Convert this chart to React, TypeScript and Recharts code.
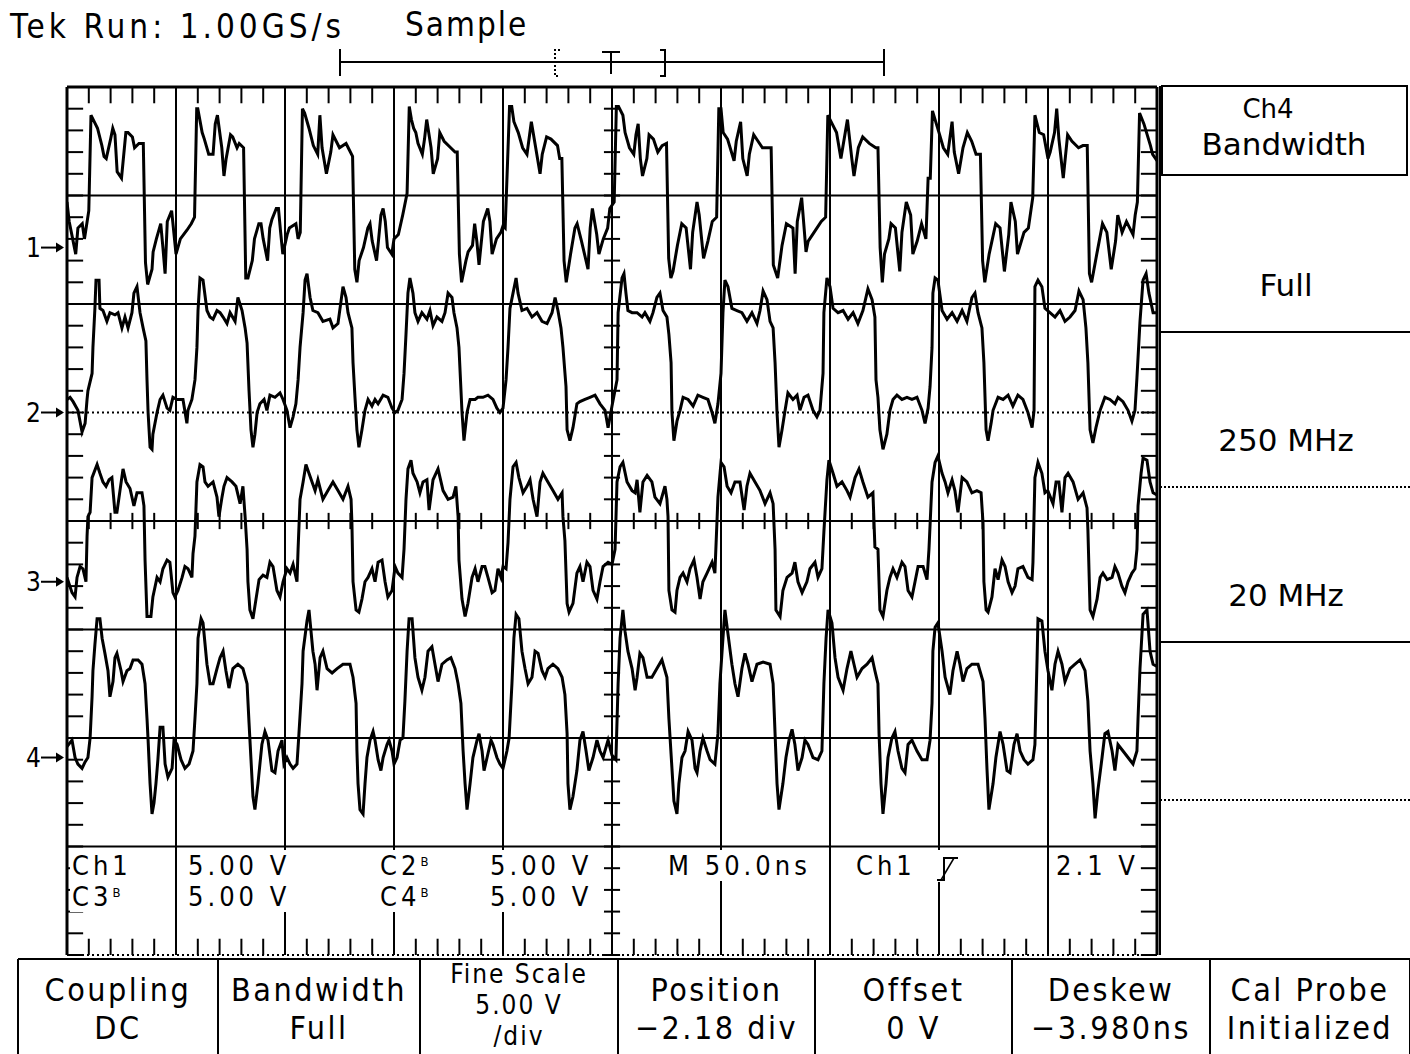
import React from 'react';
import { LineChart, Line, XAxis, YAxis, ReferenceLine } from 'recharts';

// time in ns (10 div x 50 ns), value in volts relative to the channel ground marker
const ch1Trace: [number, number][] = [
  [0, 2.1], [1, 1.2], [4, -0.3], [5, 0.9], [7, 1.1], [8, 0.4], [10, 1.7], [11, 6.1], [13, 5.7], [14, 5.5],
  [16, 4.7], [17, 4.2], [18, 4.1], [20, 5.0], [21, 5.5], [22, 5.2], [23, 3.5], [25, 3.2], [27, 5.3], [28, 5.3],
  [30, 5.1], [31, 4.6], [33, 4.8], [35, 4.8], [36, -0.7], [37, -1.7], [39, -1.0], [39.5, -0.2], [41, 0.4], [43, 1.1],
  [44, 0], [45, -1.2], [46, 1.2], [48, 1.7], [50, -0.3], [52, 0.4], [55, 0.8], [57, 1.1], [58.5, 1.4], [59.5, 6.4],
  [60, 6.4], [62, 5.3], [63, 5.0], [65, 4.3], [67, 4.3], [68, 5.7], [69, 6.1], [71, 4.6], [72, 3.3], [73, 4.1],
  [75, 5.2], [76, 5.1], [78, 4.6], [79, 4.8], [81, 4.6], [82, -1.4], [83, -1.4], [85, -0.6], [86, 0.4], [88, 1.1],
  [89, 1.1], [90, 0.4], [92, -0.6], [93, 0.9], [94, 1.3], [96, 1.8], [97, 1.8], [98, 0.7], [99, -0.3], [101, 0.6],
  [102, 0.9], [105, 1.1], [106, 0.4], [107, 0.7], [108, 6.4], [109, 6.2], [111, 5.5], [113, 4.7], [115, 4.3], [116, 6.1],
  [117, 4.6], [119, 3.4], [121, 4.4], [122, 5.2], [125, 4.6], [128, 4.8], [129, 4.6], [131, 4.2], [132, -1.0], [133, -1.6],
  [134, -0.6], [136, 0], [138, 0.9], [139, 1.1], [140, 0.3], [142, -0.6], [144, 1.5], [145, 1.8], [146, 1.2], [147, 0],
  [149, -0.3], [150, 0.4], [152, 0.6], [154, 1.5], [156, 2.5], [157, 6.5], [158, 5.9], [159, 5.5], [160, 5.3], [161, 4.8],
  [163, 4.3], [164, 5.0], [165, 5.9], [167, 4.6], [168, 3.4], [170, 4.1], [171, 5.3], [173, 4.9], [176, 4.6], [178, 4.4],
  [179, 4.4], [180, -0.3], [181, -1.6], [183, -0.6], [184, -0.2], [186, 0.1], [187, 1.1], [188, 0.3], [189, -0.8], [191, 1.2],
  [193, 1.8], [194, 1.2], [195, -0.3], [197, 0.4], [199, 0.7], [200, 1.0], [201, 0.9], [203, 6.5], [204, 6.5], [205, 5.8],
  [207, 5.3], [209, 4.6], [211, 4.3], [213, 5.8], [215, 4.6], [217, 3.4], [218, 4.3], [220, 5.1], [222, 5.0], [225, 4.7],
  [226, 4.1], [227, 4.1], [228, -0.6], [229, -1.6], [231, -0.3], [233, 0.9], [234, 1.1], [236, 0.3], [239, -1.0], [240, 0.9],
  [241, 1.8], [243, 0.6], [244, -0.3], [246, 0.4], [248, 0.9], [249, 1.8], [251, 2.1], [252, 6.5], [253, 6.5], [255, 6.1],
  [256, 5.3], [258, 4.6], [260, 4.3], [261, 5.2], [262, 5.7], [263, 4.1], [264, 3.3], [266, 4.1], [267, 5.2], [269, 5.0],
  [271, 4.4], [273, 4.7], [275, 4.8], [276, -0.5], [277, -1.4], [278, -1.1], [280, 0.1], [282, 1.1], [284, 0.9], [286, -1.0],
  [287, 0.7], [289, 2.1], [290, 1.5], [292, -0.5], [294, 0.3], [296, 1.2], [298, 1.4], [299, 6.4], [300, 6.4], [301, 5.3],
  [303, 5.0], [306, 4.0], [307, 4.9], [309, 5.8], [310, 4.1], [312, 3.3], [313, 4.3], [315, 5.2], [317, 4.9], [319, 4.6],
  [322, 4.6], [323, 4.6], [324, -0.8], [326, -1.4], [328, 0.1], [330, 1.1], [333, 0.9], [334, -1.2], [335, 1.2], [337, 2.3],
  [339, -0.2], [340, 0.3], [342, 0.6], [346, 1.2], [348, 1.4], [349, 6.1], [351, 5.7], [353, 5.3], [355, 4.1], [357, 5.3],
  [358, 5.9], [360, 4.1], [361, 3.3], [363, 4.6], [365, 5.1], [368, 4.8], [371, 4.6], [372, 4.6], [373, 0], [374, -1.6],
  [375, -0.3], [377, 0.4], [378, 1.1], [380, 0.9], [382, -1.1], [383, 0.7], [385, 2.1], [387, 1.5], [388, -0.3], [390, 0.3],
  [392, 1.1], [394, 0.4], [395, 3.2], [396, 3.2], [397, 6.3], [400, 5.3], [402, 4.6], [404, 4.3], [406, 5.8], [407, 4.4],
  [409, 3.4], [411, 4.6], [413, 5.3], [415, 4.9], [417, 4.3], [419, 4.3], [420, -0.6], [421, -1.6], [423, -0.3], [426, 1.1],
  [428, 0.9], [430, -1.1], [432, 0.6], [433, 2.1], [435, 1.2], [436, -0.3], [439, 0.7], [441, 0.9], [443, 2.3], [444, 6.1],
  [446, 5.3], [448, 5.2], [450, 4.1], [451, 4.4], [453, 5.3], [454, 6.4], [455, 5.0], [457, 3.2], [459, 5.2], [461, 4.9],
  [464, 4.6], [466, 4.7], [468, 4.7], [469, -1.2], [470, -1.6], [472, -0.5], [475, 1.1], [477, 0.7], [479, -1.0], [481, 0.3],
  [482, 1.5], [484, 0.7], [486, 1.2], [489, 0.6], [490, 1.5], [491, 2.1], [492, 6.2], [494, 5.7], [497, 4.7], [498, 4.3],
  [500, 4.0],
];

const ch2Trace: [number, number][] = [
  [0, 0.6], [1.4, 0.7], [2.8, 0.5], [5.0, 0.1], [6.9, -0.9], [8.3, -0.5], [9.2, 0.6], [9.6, 1.0], [11.5, 1.8], [11.9, 3.0],
  [12.8, 4.8], [13.3, 6.1], [14.7, 6.1], [15.1, 4.8], [16.5, 4.7], [18.3, 4.2], [19.7, 4.6], [22.0, 4.5], [23.4, 4.6], [25.2, 3.9],
  [26.6, 4.4], [28.0, 3.9], [29.8, 4.6], [30.7, 5.5], [32.1, 5.8], [33.5, 4.6], [34.9, 3.9], [36.2, 3.3], [36.7, 1.5], [37.2, 0],
  [38.1, -1.6], [39.0, -1.7], [39.4, -1.0], [41.3, 0], [42.7, 0.6], [44.0, 0.8], [45.9, 0.2], [47.2, 0.1], [48.6, 0.7], [50.5, 0.6],
  [53.2, 0.6], [55.0, -0.5], [55.5, 0.1], [57.3, 0.6], [58.7, 1.5], [59.6, 3.0], [60.1, 4.7], [61.0, 6.2], [62.4, 6.1], [64.2, 4.7],
  [65.6, 4.4], [67.0, 4.3], [68.8, 4.7], [70.2, 4.6], [71.6, 4.4], [73.4, 4.1], [74.8, 4.6], [77.1, 4.2], [78.4, 5.3], [80.3, 4.7],
  [81.7, 3.9], [82.6, 3.2], [83.5, 1.0], [84.4, -0.8], [85.3, -1.6], [86.2, -1.0], [87.2, 0], [88.5, 0.4], [90.4, 0.6], [91.7, 0.1],
  [93.1, 0.8], [95.4, 0.7], [97.7, 0.9], [99.1, 0.6], [100.9, 0.1], [102.3, -0.7], [103.7, -0.2], [105.0, 0.4], [106.0, 1.5], [106.9, 3.0],
  [108.3, 4.6], [109.2, 6.1], [110.1, 6.4], [111.5, 5.3], [112.8, 4.7], [115.1, 4.6], [117.4, 4.2], [120.6, 4.3], [122.0, 3.9], [124.3, 4.1],
  [126.6, 5.8], [128.0, 5.3], [128.9, 4.6], [130.7, 3.9], [131.2, 2.3], [132.1, 0.7], [133.0, -0.8], [133.9, -1.6], [135.3, -0.8], [136.7, 0.1],
  [138.1, 0.6], [139.9, 0.3], [141.3, 0.6], [142.7, 0.4], [145.0, 0.8], [147.2, 0.7], [149.1, 0.2], [150.5, 0], [151.8, 0.1], [153.7, 0.6],
  [154.6, 1.8], [155.5, 3.6], [156.4, 5.5], [157.3, 6.2], [158.7, 5.5], [159.6, 4.6], [161.0, 4.2], [162.8, 4.6], [165.1, 4.3], [166.5, 4.7],
  [167.9, 4.0], [169.7, 4.4], [172.0, 4.2], [173.4, 4.6], [174.8, 5.5], [176.6, 5.3], [177.5, 4.6], [178.9, 3.9], [179.8, 3.0], [181.2, 0],
  [182.1, -1.3], [183.5, 0], [184.9, 0.6], [187.2, 0.6], [188.5, 0.7], [190.8, 0.7], [193.1, 0.8], [195.4, 0.6], [197.2, 0.2], [198.6, 0],
  [200.0, 0.2], [201.4, 1.5], [202.3, 3.0], [203.2, 4.8], [204.6, 5.5], [206.0, 6.2], [206.9, 5.5], [208.7, 4.7], [211.0, 4.8], [213.3, 4.4],
  [215.6, 4.6], [217.9, 4.2], [220.2, 4.1], [222.5, 4.6], [223.9, 5.3], [225.2, 4.7], [226.6, 3.9], [227.5, 3.0], [228.9, 1.2], [229.4, -0.8],
  [230.7, -1.3], [232.1, -0.7], [233.9, 0.4], [235.3, 0.5], [237.6, 0.6], [239.9, 0.7], [242.2, 0.8], [244.5, 0.4], [246.8, 0.1], [248.2, -0.7],
  [250.0, 0.3], [252.3, 1.5], [252.8, 4.6], [254.6, 6.2], [255.5, 6.4], [256.4, 5.5], [257.3, 4.7], [259.2, 4.6], [261.5, 4.6], [263.8, 4.4],
  [265.1, 4.6], [267.4, 4.2], [268.8, 4.6], [270.6, 5.3], [272.0, 5.5], [273.4, 4.7], [275.2, 4.4], [276.1, 3.6], [277.1, 2.3], [277.5, 0],
  [278.4, -1.3], [279.8, -0.4], [281.2, 0.1], [282.6, 0.7], [284.9, 0.6], [287.2, 0.3], [289.4, 0.8], [291.7, 0.7], [294.0, 0.6], [295.9, 0],
  [297.2, -0.5], [298.6, 0.4], [300.0, 1.8], [300.9, 4.6], [301.8, 6.1], [303.2, 5.8], [305.0, 4.8], [307.3, 4.7], [309.6, 4.6], [311.9, 4.2],
  [314.2, 4.6], [316.5, 4.1], [317.9, 4.7], [319.3, 5.6], [321.1, 5.2], [322.5, 4.2], [323.9, 3.9], [324.8, 2.3], [325.7, 0], [326.6, -1.6],
  [328.0, -0.8], [329.4, 0.1], [330.7, 0.9], [333.0, 0.6], [334.9, 0.8], [336.2, 0.1], [338.1, 0.7], [339.9, 0.8], [342.2, 0.1], [344.0, -0.2],
  [345.4, 0.1], [346.8, 1.8], [347.2, 4.6], [348.6, 6.2], [350.0, 5.8], [351.4, 4.8], [353.7, 4.6], [356.0, 4.7], [358.3, 4.3], [360.6, 4.6],
  [362.8, 4.1], [365.1, 4.7], [367.4, 5.7], [369.3, 5.2], [370.6, 4.4], [371.1, 1.5], [372.0, 0.7], [372.9, -0.8], [374.3, -1.7], [376.1, -1.0],
  [377.5, 0.1], [378.9, 0.6], [380.7, 0.8], [383.0, 0.6], [385.3, 0.7], [387.6, 0.6], [389.9, 0.7], [392.2, 0.1], [393.6, -0.5], [395.0, 0.2],
  [395.9, 1.2], [396.8, 3.0], [397.2, 5.5], [398.2, 6.2], [399.5, 6.1], [401.4, 4.7], [403.7, 4.3], [406.0, 4.6], [408.3, 4.2], [410.6, 4.7],
  [412.8, 4.2], [415.1, 5.3], [416.5, 5.5], [417.9, 4.6], [419.7, 3.9], [420.6, 2.3], [421.6, -0.8], [422.5, -1.3], [423.9, -0.5], [424.8, 0.1],
  [427.1, 0.7], [429.4, 0.6], [431.7, 0.8], [433.9, 0.3], [436.2, 0.8], [438.5, 0.6], [440.8, 0], [442.7, -0.7], [443.6, 0.1], [444.0, 5.8],
  [445.4, 6.1], [447.2, 5.8], [448.6, 4.8], [450.9, 4.6], [453.2, 4.4], [455.5, 4.7], [457.8, 4.2], [460.1, 4.4], [462.4, 4.7], [464.2, 5.6],
  [466.1, 5.2], [467.4, 3.9], [468.3, 2.3], [469.3, -0.8], [470.6, -1.4], [472.0, -0.7], [473.9, 0.1], [476.1, 0.7], [478.4, 0.6], [480.7, 0.4],
  [482.1, 0.7], [484.4, 0.5], [486.7, 0.1], [488.5, -0.4], [489.9, 0.1], [490.8, 1.6], [492.2, 4.2], [493.6, 6.1], [495.0, 6.4], [496.3, 5.5],
  [498.2, 4.6], [500, 4.6],
];

const ch3Trace: [number, number][] = [
  [0, 0.2], [2.3, -0.5], [3.7, -0.7], [4.6, 0.2], [6.0, 0.7], [7.3, 0.6], [8.7, 0], [9.2, 2.1], [9.6, 3.0], [10.6, 3.2],
  [11.5, 4.8], [13.8, 5.4], [15.1, 5.0], [16.5, 4.6], [17.9, 4.4], [19.3, 4.7], [20.6, 4.8], [22.0, 3.2], [22.9, 3.2], [24.3, 4.2],
  [25.7, 5.2], [27.1, 4.6], [28.9, 4.3], [30.7, 3.5], [32.1, 4.1], [34.4, 4.1], [35.3, 3.5], [35.8, 1.0], [36.7, -1.6], [38.5, -1.6],
  [39.4, -0.7], [41.3, 0.2], [42.7, 0], [44.0, 0.6], [45.9, 1.0], [47.2, 0.9], [48.6, -0.5], [49.5, -0.7], [50.9, -0.4], [52.8, 0.2],
  [54.1, 0.7], [55.5, 0.6], [57.3, 0.2], [57.8, 1.3], [58.7, 2.1], [59.6, 4.6], [61.0, 5.4], [62.4, 5.3], [63.3, 4.6], [64.7, 4.4],
  [67.0, 4.6], [68.8, 3.9], [69.7, 3.0], [71.1, 3.9], [72.0, 4.4], [73.4, 4.8], [75.7, 4.6], [77.5, 4.4], [79.4, 3.6], [80.7, 4.4],
  [81.7, 3.0], [82.6, 1.5], [83.0, 0], [83.9, -1.3], [85.3, -1.7], [86.7, -0.8], [88.1, 0.1], [89.9, 0.3], [91.7, 0.2], [93.1, 0.9],
  [94.5, 0.7], [96.3, -0.4], [97.7, -0.7], [99.1, 0], [100.9, 0.6], [102.3, 0.4], [103.7, 0.8], [105.5, 0], [106.0, 1.5], [106.9, 3.8],
  [108.3, 4.6], [109.6, 5.4], [111.0, 5.0], [112.4, 4.6], [113.8, 4.2], [115.1, 4.7], [117.4, 3.8], [119.7, 4.2], [122.0, 4.6], [124.3, 4.2],
  [126.6, 3.8], [128.9, 4.4], [130.3, 3.8], [130.7, 2.7], [131.2, 0], [132.6, -1.3], [133.9, -1.4], [135.3, -0.8], [136.7, 0], [138.1, 0.2],
  [139.9, 0.6], [141.3, 0], [142.7, 0.9], [144.5, 1.0], [145.9, 0], [147.2, -0.7], [149.1, -0.4], [150.5, 0.7], [151.8, 0.4], [153.7, 0.2],
  [154.6, 1.5], [155.5, 3.8], [156.4, 5.2], [157.8, 5.6], [158.7, 5.0], [160.6, 4.6], [161.9, 4.1], [163.3, 4.6], [165.1, 4.7], [166.1, 3.3],
  [167.9, 4.7], [170.2, 5.2], [172.5, 4.2], [174.8, 3.8], [177.1, 3.9], [178.4, 4.4], [179.4, 3.0], [179.8, 1.0], [181.2, -0.8], [182.6, -1.6],
  [183.9, -1.0], [185.8, 0.2], [187.2, 0.6], [188.5, 0], [190.4, 0.7], [191.7, 0.7], [193.1, 0.2], [195.0, -0.5], [196.3, -0.4], [197.7, 0.6],
  [199.1, 0.2], [200.0, 0.7], [201.4, 0.6], [202.3, 1.8], [203.2, 3.8], [204.6, 5.3], [206.0, 5.5], [207.3, 4.8], [209.2, 4.1], [211.0, 4.4],
  [212.4, 4.7], [213.8, 3.8], [215.6, 3.0], [217.0, 4.6], [218.3, 5.0], [220.6, 4.6], [222.9, 4.2], [225.2, 3.8], [227.1, 4.1], [227.5, 3.0],
  [228.4, 1.9], [229.4, -1.0], [230.3, -1.4], [232.1, -1.0], [233.9, 0.4], [235.3, 0.7], [236.7, 0], [238.5, 0.9], [239.9, 0.7], [241.3, -0.4],
  [243.1, -0.8], [244.5, 0], [245.9, 0.7], [248.2, 0.9], [250.0, 0.8], [251.4, 1.5], [252.3, 4.6], [253.7, 5.3], [255.0, 5.5], [256.9, 4.6],
  [259.2, 4.2], [260.6, 4.1], [261.5, 4.7], [262.8, 3.2], [264.2, 4.6], [266.1, 4.9], [268.3, 4.6], [269.7, 3.9], [272.0, 3.6], [274.3, 4.4],
  [275.2, 3.8], [275.7, 3.0], [276.1, -0.4], [277.5, -1.3], [278.9, -1.4], [279.8, -0.4], [281.2, 0.2], [282.6, 0.4], [284.4, 0], [285.8, 0.6],
  [287.6, 1.0], [289.0, 0.2], [290.4, -0.8], [291.7, 0], [293.6, 0.4], [295.9, 0.9], [297.2, 0.4], [298.6, 3.9], [300.0, 5.5], [301.4, 5.3],
  [302.8, 4.4], [304.6, 4.1], [306.4, 4.6], [308.7, 4.6], [310.6, 3.3], [311.9, 4.4], [313.3, 5.0], [315.6, 4.6], [317.9, 4.2], [320.2, 3.6],
  [322.5, 4.1], [323.9, 3.6], [324.8, 1.5], [325.2, -1.3], [327.1, -1.6], [328.4, -0.4], [330.3, 0.2], [332.6, 0.4], [333.9, 0.9], [335.3, 0],
  [337.2, -0.5], [339.4, 0], [340.8, 0.6], [343.1, 0.9], [344.5, 0.2], [346.3, 0.6], [347.2, 2.3], [348.6, 4.7], [349.5, 5.6], [351.4, 5.0],
  [353.2, 4.4], [355.5, 4.6], [357.8, 4.2], [359.2, 3.9], [361.5, 4.8], [363.3, 5.2], [365.1, 4.6], [367.4, 3.9], [369.7, 4.1], [370.6, 1.6],
  [372.0, 1.5], [372.9, -1.3], [374.3, -1.6], [376.1, -0.4], [377.5, 0.2], [378.9, 0.6], [380.7, 0.2], [383.0, 0.9], [384.4, 0.7], [385.8, -0.4],
  [387.6, -0.7], [389.0, 0], [390.4, 0.7], [392.7, 0.7], [394.5, 0.1], [395.4, 1.5], [396.8, 4.6], [398.2, 5.5], [399.5, 5.8], [401.4, 5.0],
  [402.8, 4.6], [404.1, 4.1], [406.0, 4.7], [407.3, 4.2], [408.7, 3.2], [410.6, 4.8], [412.8, 4.6], [415.1, 4.1], [417.4, 4.2], [419.3, 4.1],
  [420.2, 2.7], [420.6, 0], [421.6, -1.3], [422.5, -1.4], [424.3, -0.7], [425.7, 0.6], [427.1, 0.1], [428.9, 1.0], [430.3, 0.7], [431.7, 0],
  [433.5, -0.5], [434.9, -0.2], [436.2, 0.6], [438.5, 0.7], [440.8, 0.2], [442.7, 0.1], [443.1, 0.9], [444.0, 4.8], [445.4, 5.5], [447.2, 5.0],
  [448.6, 4.1], [449.9, 4.2], [452.3, 3.6], [453.7, 4.6], [455.0, 4.6], [456.4, 3.2], [457.8, 4.8], [459.2, 5.0], [461.5, 4.6], [463.8, 3.8],
  [466.1, 4.1], [467.9, 3.4], [468.3, 2.4], [469.3, -1.3], [470.6, -1.6], [472.5, -0.8], [473.9, 0.2], [475.2, 0.4], [477.1, 0.1], [479.4, 0.2],
  [480.7, 0.7], [482.1, 0.4], [483.9, -0.2], [485.3, -0.5], [486.7, 0], [488.5, 0.4], [489.9, 0.6], [490.8, 1.5], [491.3, 3.5], [492.7, 5.0],
  [493.6, 5.7], [495.4, 5.6], [496.8, 4.6], [498.2, 4.1], [500, 4.0],
];

const ch4Trace: [number, number][] = [
  [0, 0.5], [2.3, 0.8], [3.7, 0], [5.0, -0.3], [6.9, -0.5], [8.3, -0.2], [9.6, 0], [10.6, 0.9], [11.5, 2.8], [11.9, 4.0],
  [12.8, 5.2], [13.8, 6.4], [15.1, 6.4], [16.1, 5.5], [17.4, 4.8], [18.8, 4.0], [19.7, 2.8], [21.1, 3.5], [22.0, 4.6], [22.9, 4.8],
  [24.8, 4.0], [25.7, 3.5], [27.5, 4.0], [28.9, 4.1], [30.3, 4.5], [32.6, 4.5], [34.4, 4.3], [35.8, 3.4], [36.7, 1.8], [37.2, 0.8],
  [38.1, -1.2], [39.0, -2.6], [39.9, -2.1], [40.8, -1.2], [41.7, -0.1], [42.7, 1.4], [44.0, 1.4], [45.0, -0.3], [46.3, -0.9], [48.2, -0.5],
  [49.1, 0.8], [50.5, 0.6], [52.3, -0.1], [54.1, -0.5], [56.0, -0.3], [57.8, 0.3], [58.7, 1.8], [59.6, 3.4], [60.1, 5.5], [61.5, 6.4],
  [62.4, 6.2], [64.2, 4.3], [65.6, 3.4], [67.0, 3.4], [68.8, 4.1], [70.2, 4.6], [71.6, 4.9], [72.9, 4.0], [74.3, 3.2], [76.1, 4.1],
  [78.4, 4.3], [80.7, 4.1], [82.6, 3.4], [83.5, 1.6], [84.4, -0.1], [85.3, -1.8], [86.2, -2.4], [87.6, -1.2], [89.4, 0.6], [90.8, 1.2],
  [92.2, 0.8], [94.0, -0.6], [95.4, -0.7], [96.8, 0.3], [98.6, 0.8], [99.5, -0.3], [100.9, 0], [102.3, -0.3], [103.7, -0.5], [105.5, -0.3],
  [106.4, 1.1], [107.8, 3.4], [108.3, 4.9], [110.1, 6.3], [111.0, 6.8], [112.8, 4.9], [113.8, 4.3], [114.7, 3.1], [116.1, 4.6], [117.4, 4.9],
  [119.3, 4.1], [121.6, 3.9], [123.9, 4.1], [126.6, 4.3], [129.8, 4.3], [131.2, 3.7], [132.6, 2.5], [133.0, 0.3], [133.5, -1.2], [134.4, -2.4],
  [135.8, -2.6], [136.7, -1.2], [137.6, 0], [139.0, 0.8], [140.4, 1.2], [141.3, 0.8], [142.7, -0.1], [144.0, -0.6], [145.0, 0], [146.8, 0.6],
  [147.7, 0.8], [149.1, 0.3], [150.0, -0.3], [151.4, 0], [152.8, 0.8], [154.1, 0.9], [155.0, 2.6], [156.0, 4.9], [156.9, 6.4], [158.3, 6.4],
  [159.6, 4.6], [161.0, 3.7], [162.8, 3.1], [164.2, 3.7], [165.6, 4.9], [167.4, 5.1], [168.8, 4.3], [170.2, 3.5], [172.0, 4.3], [174.3, 4.5],
  [176.1, 4.6], [178.0, 4.1], [179.4, 3.4], [180.7, 2.5], [181.7, 0.3], [182.6, -1.2], [183.5, -2.4], [184.9, -1.2], [186.2, 0], [188.1, 0.8],
  [189.0, 1.1], [190.4, 0.3], [191.3, -0.6], [192.7, 0], [194.5, 0.8], [195.4, 0.6], [197.2, 0], [198.6, -0.3], [200.0, -0.5], [201.8, 0.3],
  [202.8, 0.9], [204.1, 3.4], [205.0, 5.5], [206.0, 6.6], [207.3, 6.4], [208.7, 4.9], [210.1, 4.1], [211.5, 3.4], [213.3, 3.7], [214.7, 4.9],
  [216.1, 4.8], [217.9, 4.0], [219.3, 3.7], [220.6, 4.1], [222.9, 4.3], [225.2, 4.1], [227.1, 3.7], [228.4, 2.9], [229.4, 1.1], [229.8, -1.2],
  [230.7, -2.4], [232.1, -1.8], [233.9, -0.6], [235.3, 0.8], [236.7, 1.2], [238.1, 0.3], [239.4, -0.6], [241.3, 0], [243.1, 0.8], [244.5, 0.3],
  [245.9, 0], [248.2, 0.8], [250.0, 0.1], [251.8, -0.1], [252.8, 3.4], [253.7, 5.5], [255.0, 6.8], [256.0, 5.8], [257.3, 4.9], [259.2, 4.1],
  [260.6, 3.1], [261.5, 3.7], [262.8, 4.8], [264.2, 4.6], [266.1, 3.7], [268.3, 3.7], [270.6, 4.1], [272.9, 4.5], [275.2, 3.7], [276.1, 1.8],
  [277.5, -0.5], [278.4, -2.0], [279.8, -2.6], [280.7, -1.2], [282.1, 0], [283.5, 0.3], [284.9, 1.2], [286.7, 0.8], [288.1, -0.5], [289.0, -0.7],
  [290.4, 0.3], [291.7, 0.9], [293.6, 0.3], [295.0, -0.1], [297.2, -0.3], [298.6, 1.1], [299.5, 3.4], [300.9, 5.5], [301.8, 6.8], [303.2, 5.7],
  [305.0, 4.3], [306.4, 3.4], [307.8, 2.8], [309.6, 4.1], [311.0, 4.8], [312.4, 4.3], [314.2, 3.5], [316.5, 4.3], [319.3, 4.4], [322.5, 4.3],
  [323.9, 3.4], [324.8, 1.1], [325.7, -1.2], [326.6, -2.4], [328.4, -1.2], [329.8, 0], [331.2, 0.8], [332.6, 1.3], [333.9, 0.6], [335.3, -0.6],
  [337.2, 0], [338.5, 0.8], [339.9, 0.6], [342.2, 0], [344.5, -0.1], [346.3, 0.3], [347.2, 3.4], [348.2, 5.5], [349.1, 6.8], [350.9, 6.2],
  [352.3, 4.6], [353.7, 3.7], [356.0, 3.1], [357.8, 4.1], [359.6, 4.9], [361.0, 4.3], [362.4, 3.7], [364.7, 4.1], [367.0, 4.3], [369.3, 4.6],
  [370.6, 4.0], [372.0, 3.4], [372.5, 1.1], [373.4, -1.2], [374.3, -2.6], [375.7, -1.2], [376.6, 0], [378.4, 0.9], [379.8, 1.2], [381.2, 0.3],
  [383.0, -0.5], [384.4, -0.7], [385.8, 0.6], [387.6, 0.8], [389.9, 0.3], [392.2, -0.1], [394.5, -0.1], [395.9, 0.8], [396.8, 2.5], [397.2, 4.9],
  [398.2, 6.0], [399.5, 6.2], [401.4, 4.9], [402.8, 3.7], [405.0, 2.9], [406.4, 4.0], [408.3, 4.9], [409.6, 4.3], [411.0, 3.5], [412.8, 4.1],
  [415.1, 4.3], [417.9, 4.3], [420.2, 3.5], [421.1, 1.8], [422.0, -0.5], [422.9, -2.4], [424.8, -1.2], [426.1, 0], [428.0, 1.2], [429.4, 0.6],
  [431.2, -0.6], [432.6, -0.7], [434.4, 0.6], [435.8, 1.1], [437.2, 0.3], [439.0, -0.1], [440.8, -0.3], [443.1, -0.1], [444.0, 0.6], [445.0, 4.6],
  [445.4, 6.4], [447.2, 6.3], [448.6, 4.9], [450.0, 4.0], [451.8, 3.1], [453.2, 4.3], [454.6, 4.9], [456.4, 4.3], [457.8, 3.5], [460.1, 4.1],
  [462.4, 4.3], [464.7, 4.5], [467.0, 4.0], [468.3, 2.6], [469.3, 0.3], [470.6, -1.2], [471.6, -2.8], [472.9, -1.5], [474.8, 0], [476.1, 1.1],
  [477.5, 1.2], [479.4, 0.3], [480.7, -0.6], [482.1, 0.6], [484.4, 0.3], [486.7, 0], [489.0, -0.3], [490.8, 0.3], [491.3, 1.8], [492.2, 4.1],
  [493.1, 5.7], [493.6, 6.6], [495.4, 6.8], [496.8, 4.9], [498.2, 4.3], [500, 4.2],
];

// vertical position of each channel's ground marker, in divisions from centre
const channelPositions = [2.52, 1.0, -0.56, -2.18];
const channelNames = ['1', '2', '3', '4'];
const VOLTS_PER_DIV = 5;

const timeDivs = [0, 50, 100, 150, 200, 250, 300, 350, 400, 450, 500];
const levelDivs = [-4, -3, -2, -1, 0, 1, 2, 3, 4];
const dottedLevels = [1, -4];
const minorTimes = Array.from({ length: 51 }, (_, i) => i * 10);
const minorLevels = Array.from({ length: 41 }, (_, i) => -4 + i * 0.2);

const topLabels = [
  { x: 10, y: 38, text: 'Tek Run: 1.00GS/s', spacing: 4 },
  { x: 405, y: 36, text: 'Sample', spacing: 2 },
];

const readoutRow1 = [
  { x: 72, w: 58, text: 'Ch1' },
  { x: 188, w: 116, text: '5.00 V' },
  { x: 380, w: 50, text: 'C2', bw: true },
  { x: 490, w: 116, text: '5.00 V' },
  { x: 668, w: 158, text: 'M 50.0ns' },
  { x: 856, w: 60, text: 'Ch1' },
  { x: 1056, w: 78, text: '2.1 V' },
];
const readoutRow2 = [
  { x: 72, w: 58, text: 'C3', bw: true },
  { x: 188, w: 116, text: '5.00 V' },
  { x: 380, w: 50, text: 'C4', bw: true },
  { x: 490, w: 116, text: '5.00 V' },
];

const menuItems = [
  { y: 296, text: 'Full' },
  { y: 451, text: '250 MHz' },
  { y: 606, text: '20 MHz' },
];
const menuSeparators = [
  { y: 332, dotted: false },
  { y: 487, dotted: true },
  { y: 642, dotted: false },
  { y: 800, dotted: true },
];

const softkeyEdges = [18, 218, 420, 618, 815, 1012, 1210, 1410];
const softkeyLabels = [
  ['Coupling', 'DC'],
  ['Bandwidth', 'Full'],
  ['Fine Scale', '5.00 V', '/div'],
  ['Position', '\u22122.18 div'],
  ['Offset', '0 V'],
  ['Deskew', '\u22123.980ns'],
  ['Cal Probe', 'Initialized'],
];

const NARROW = "'DejaVu Sans Condensed', 'DejaVu Sans', sans-serif";
const WIDE = "'DejaVu Sans', sans-serif";
const TICK_T = 3.7; // half a minor tick, in ns
const TICK_V = 0.075; // half a minor tick, in divisions

const toPoints = (trace: [number, number][]) => trace.map(([t, v]) => ({ t, v }));
const traces = [ch1Trace, ch2Trace, ch3Trace, ch4Trace].map(toPoints);

function Overlay() {
  const rowTop = [850, 881];
  return (
    <svg width={1410} height={1054} style={{ position: 'absolute', left: 0, top: 0 }}>
      {topLabels.map((l) => (
        <text key={l.text} x={l.x} y={l.y} fontFamily={NARROW} fontSize={33} letterSpacing={l.spacing} fill="#000">
          {l.text}
        </text>
      ))}
      {/* trigger position bar */}
      <g stroke="#000" strokeWidth={2} fill="none">
        <line x1={340} y1={62} x2={884} y2={62} />
        <line x1={340} y1={49} x2={340} y2={76} />
        <line x1={884} y1={49} x2={884} y2={76} />
        <path d="M560 50 L555 50 L555 76 L560 76" strokeDasharray="2 2" />
        <path d="M660 50 L665 50 L665 76 L660 76" />
        <path d="M602 52 L620 52 M611 52 L611 74" />
      </g>

      {/* channel ground markers */}
      {channelPositions.map((p, i) => {
        const y = 521 - p * 108.5;
        return (
          <g key={i}>
            <text x={26} y={y + 9} fontFamily={NARROW} fontSize={26} fill="#000">{channelNames[i]}</text>
            <line x1={41} y1={y} x2={62} y2={y} stroke="#000" strokeWidth={2} />
            <path d={`M56 ${y - 5} L64 ${y} L56 ${y + 5} Z`} fill="#000" />
          </g>
        );
      })}

      {/* readout */}
      {[readoutRow1, readoutRow2].map((row, r) =>
        row.map((it) => (
          <g key={`${r}-${it.x}`}>
            <rect x={it.x - 2} y={rowTop[r]} width={it.w} height={31} fill="#fff" />
            <text x={it.x} y={rowTop[r] + 25} fontFamily={NARROW} fontSize={27} letterSpacing={4} fill="#000">
              {it.text}
              {it.bw ? <tspan fontSize={13} dy={-9}>B</tspan> : null}
            </text>
          </g>
        )),
      )}
      <rect x={934} y={850} width={28} height={32} fill="#fff" />
      <path d="M937 880 L944 880 L944 858 L958 858" stroke="#000" strokeWidth={2} fill="none" />
      <path d="M941 880 L954 858" stroke="#000" strokeWidth={1.5} fill="none" />

      {/* side menu */}
      <rect x={1162} y={86} width={245} height={89} fill="none" stroke="#000" strokeWidth={2} />
      <text x={1268} y={118} textAnchor="middle" fontFamily={WIDE} fontSize={26} fill="#000">Ch4</text>
      <text x={1284} y={155} textAnchor="middle" fontFamily={WIDE} fontSize={31} fill="#000">Bandwidth</text>
      {menuItems.map((m) => (
        <text key={m.text} x={1286} y={m.y} textAnchor="middle" fontFamily={WIDE} fontSize={31} fill="#000">
          {m.text}
        </text>
      ))}
      {menuSeparators.map((s) => (
        <line key={s.y} x1={1160} y1={s.y} x2={1410} y2={s.y} stroke="#000"
          strokeWidth={2} strokeDasharray={s.dotted ? '2 2' : undefined} />
      ))}
      <line x1={1160} y1={86} x2={1160} y2={955} stroke="#000" strokeWidth={2} />

      {/* softkeys */}
      <line x1={18} y1={959} x2={1410} y2={959} stroke="#000" strokeWidth={2} />
      {softkeyEdges.map((x) => (
        <line key={x} x1={x} y1={959} x2={x} y2={1054} stroke="#000" strokeWidth={2} />
      ))}
      {softkeyLabels.map((lines, i) => {
        const cx = (softkeyEdges[i] + softkeyEdges[i + 1]) / 2;
        const three = lines.length === 3;
        const ys = three ? [983, 1014, 1045] : [1001, 1039];
        return lines.map((s, j) => (
          <text key={`${i}-${j}`} x={cx} y={ys[j]} textAnchor="middle" fontFamily={NARROW}
            fontSize={three ? 26 : 32} letterSpacing={three ? 2 : 2.5} fill="#000">
            {s}
          </text>
        ));
      })}
    </svg>
  );
}

export default function App() {
  return (
    <div style={{ position: 'absolute', left: 0, top: 0, width: 1410, height: 1054, background: '#fff' }}>
      <LineChart width={1410} height={1054} margin={{ top: 87, right: 253, bottom: 99, left: 67 }}>
        <XAxis type="number" dataKey="t" domain={[0, 500]} ticks={timeDivs} hide allowDataOverflow />
        <YAxis type="number" domain={[-4, 4]} ticks={levelDivs} hide allowDataOverflow />
        {timeDivs.map((t) => (
          <ReferenceLine key={`vx${t}`} x={t} stroke="#000" strokeWidth={t === 0 || t === 500 ? 3 : 2} />
        ))}
        {levelDivs.map((d) => (
          <ReferenceLine key={`hy${d}`} y={d} stroke="#000"
            strokeWidth={d === 4 ? 3 : 2}
            strokeDasharray={dottedLevels.includes(d) ? '2 3' : undefined} />
        ))}
        {minorTimes.map((t) => (
          <ReferenceLine key={`tt${t}`} segment={[{ x: t, y: 4 }, { x: t, y: 4 - 2 * TICK_V }]} stroke="#000" strokeWidth={2} />
        ))}
        {minorTimes.map((t) => (
          <ReferenceLine key={`tb${t}`} segment={[{ x: t, y: -4 }, { x: t, y: -4 + 2 * TICK_V }]} stroke="#000" strokeWidth={2} />
        ))}
        {minorTimes.map((t) => (
          <ReferenceLine key={`tc${t}`} segment={[{ x: t, y: -TICK_V }, { x: t, y: TICK_V }]} stroke="#000" strokeWidth={2} />
        ))}
        {minorLevels.map((d) => (
          <ReferenceLine key={`ll${d}`} segment={[{ x: 0, y: d }, { x: 2 * TICK_T, y: d }]} stroke="#000" strokeWidth={2} />
        ))}
        {minorLevels.map((d) => (
          <ReferenceLine key={`lr${d}`} segment={[{ x: 500 - 2 * TICK_T, y: d }, { x: 500, y: d }]} stroke="#000" strokeWidth={2} />
        ))}
        {minorLevels.map((d) => (
          <ReferenceLine key={`lc${d}`} segment={[{ x: 250 - TICK_T, y: d }, { x: 250 + TICK_T, y: d }]} stroke="#000" strokeWidth={2} />
        ))}
        {traces.map((pts, i) => (
          <Line
            key={i}
            data={pts}
            dataKey={(p: { v: number }) => p.v / VOLTS_PER_DIV + channelPositions[i]}
            type="linear"
            dot={false}
            activeDot={false}
            stroke="#000"
            strokeWidth={3}
            isAnimationActive={false}
          />
        ))}
      </LineChart>
      <Overlay />
    </div>
  );
}
